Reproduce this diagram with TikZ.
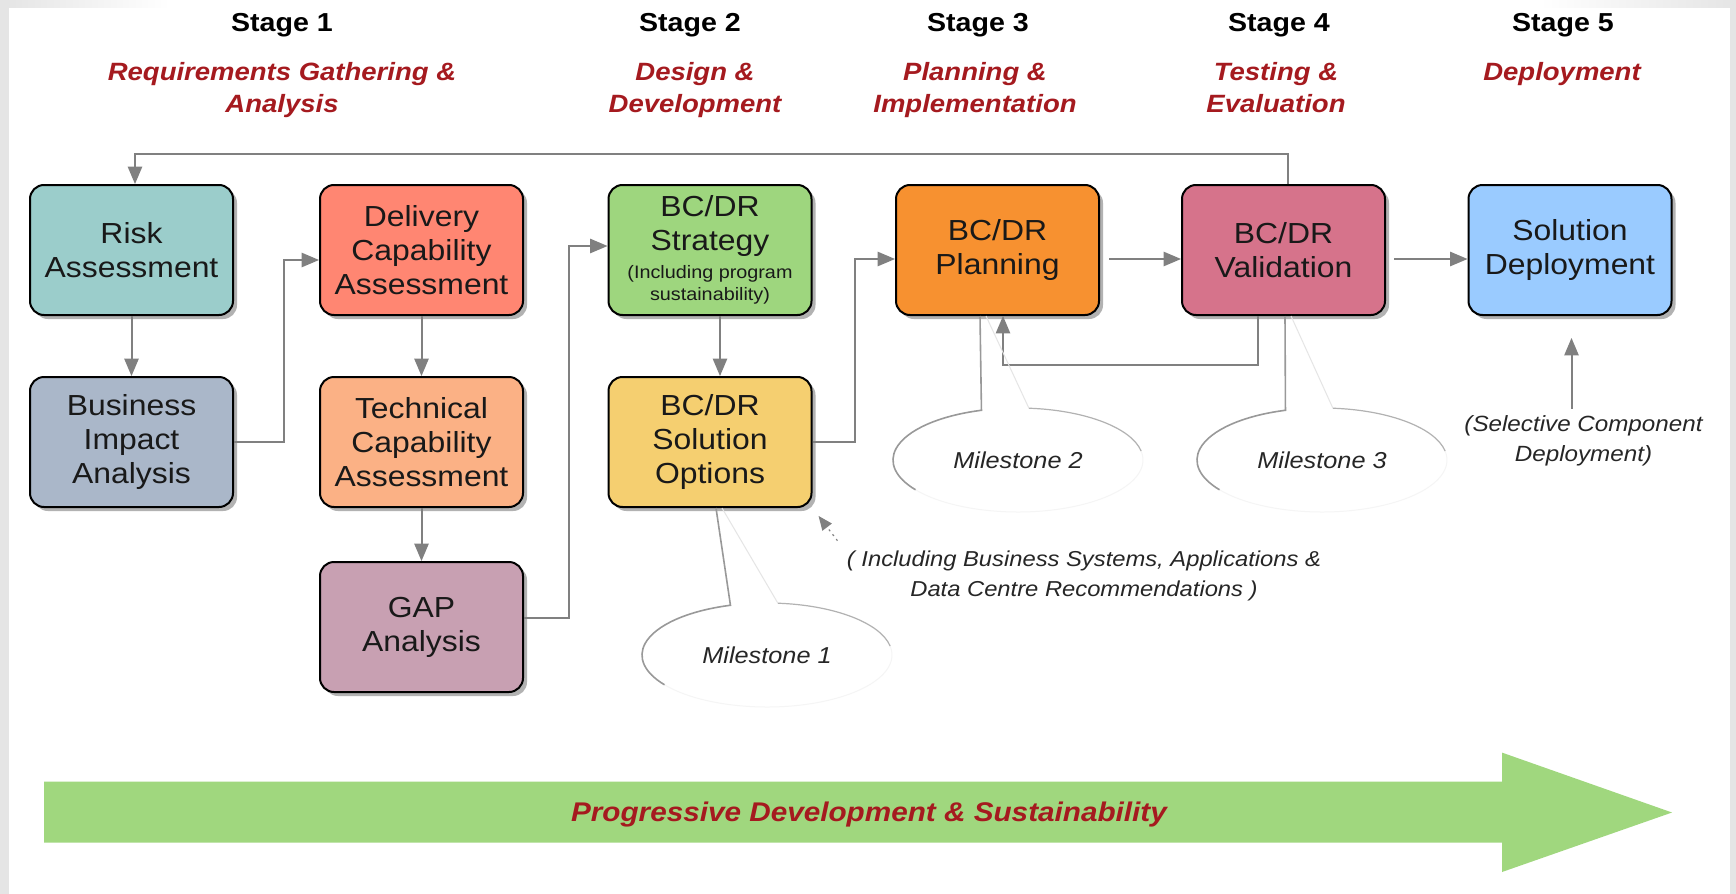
\documentclass[tikz,border=0pt]{standalone}
\usepackage{fontspec}
\setmainfont{Liberation Sans}[FakeStretch=1.1]
\usepackage{tikz}
\usetikzlibrary{shapes,arrows,shadows,backgrounds}

\definecolor{stagered}{HTML}{A51A1F}
\definecolor{linegray}{HTML}{808080}
\definecolor{riskfill}{HTML}{9BCDCB}
\definecolor{dcafill}{HTML}{FF8672}
\definecolor{biafill}{HTML}{AAB7C9}
\definecolor{tcafill}{HTML}{FBB185}
\definecolor{gapfill}{HTML}{C8A0B2}
\definecolor{stratfill}{HTML}{9ED67E}
\definecolor{optfill}{HTML}{F5CF70}
\definecolor{planfill}{HTML}{F79130}
\definecolor{valfill}{HTML}{D6738B}
\definecolor{depfill}{HTML}{9ACBFF}
\definecolor{progfill}{HTML}{A0D77E}

\tikzset{
  box/.style={rectangle,rounded corners=7pt,draw=black,line width=1pt,
    minimum width=101.5pt,minimum height=65pt,inner sep=1pt,align=center,
    text=black!90,font=\fontsize{14.5}{17}\selectfont,
    drop shadow={shadow xshift=2pt,shadow yshift=-2pt,fill=black!60}},
  stage/.style={font=\fontsize{13}{15.5}\selectfont\bfseries},
  phase/.style={align=center,anchor=north,text=stagered,font=\fontsize{12.5}{16}\selectfont\bfseries\itshape},
  flow/.style={draw=linegray,line width=1pt,>=triangle 45,->},
  note/.style={align=center,text=black!85,font=\fontsize{11}{15}\selectfont\itshape},
  mstone/.style={text=black!85,font=\fontsize{11.5}{14}\selectfont\itshape},
  stem/.style={draw=black!40,line width=0.8pt},
  rim/.style={draw=black!30,line width=0.6pt},
  fade/.style={draw=black!4,line width=0.5pt},
  mouth/.style={draw=black!10,line width=0.5pt}
}

\begin{document}
\begin{tikzpicture}[x=0.5pt,y=-0.5pt]
  \useasboundingbox (0,0) rectangle (1736,894);
  % frame
  \fill[black!10] (0,0) rectangle (1736,894);
  \fill[white] (9,7) rectangle (1730,894);
  \shade[left color=black!10,right color=white] (9,0) rectangle (170,7);
  \fill[white] (170,0) rectangle (1540,7);
  \shade[left color=white,right color=black!10] (1540,0) rectangle (1730,7);

  % stage headings
  \node[stage] (s1) at (282,25) {Stage 1};
  \node[stage] (s2) at (690,25) {Stage 2};
  \node[stage] (s3) at (978,25) {Stage 3};
  \node[stage] (s4) at (1279,25) {Stage 4};
  \node[stage] (s5) at (1563,25) {Stage 5};
  \node[phase] (p1) at (282,55) {Requirements Gathering \&\\Analysis};
  \node[phase] (p2) at (695,55) {Design \&\\Development};
  \node[phase] (p3) at (975,55) {Planning \&\\Implementation};
  \node[phase] (p4) at (1276,55) {Testing \&\\Evaluation};
  \node[phase] (p5) at (1562,55) {Deployment};

  % boxes
  \node[box,fill=riskfill] (risk) at (131.5,250) {Risk\\Assessment};
  \node[box,fill=biafill] (bia) at (131.5,442) {Business\\Impact\\Analysis};
  \node[box,fill=dcafill] (dca) at (421.5,250) {Delivery\\Capability\\Assessment};
  \node[box,fill=tcafill] (tca) at (421.5,442) {Technical\\Capability\\Assessment};
  \node[box,fill=gapfill] (gap) at (421.5,627) {GAP\\Analysis};
  \node[box,fill=stratfill] (strat) at (710,250)
    {BC/DR\\Strategy\\[-3pt]{\fontsize{9}{10.5}\selectfont (Including program}\\[-6pt]{\fontsize{9}{10.5}\selectfont sustainability)}};
  \node[box,fill=optfill] (opt) at (710,442) {BC/DR\\Solution\\Options};
  \node[box,fill=planfill] (plan) at (997.5,250) {BC/DR\\Planning};
  \node[box,fill=valfill] (val) at (1283.5,250) {BC/DR\\Validation};
  \node[box,fill=depfill] (dep) at (1570,250) {Solution\\Deployment};

  % connectors
  \draw[flow] (risk) -- (bia);
  \draw[flow] (bia.east) -- ++(50,0) |- ([yshift=-5pt]dca.west);
  \draw[flow] (dca) -- (tca);
  \draw[flow] (tca) -- (gap);
  \draw[flow] ([yshift=4.5pt]gap.east) -- ++(45,0) |- ([yshift=2pt]strat.west);
  \draw[flow] ([xshift=5pt]strat.south) -- ([xshift=5pt]opt.north);
  \draw[flow] (opt.east) -- ++(42,0) |- ([yshift=-4.5pt]plan.west);
  \draw[flow,shorten <=4.5pt] ([yshift=-4.5pt]plan.east) -- ([yshift=-4.5pt]val.west);
  \draw[flow,shorten <=4pt] ([yshift=-4.5pt]val.east) -- ([yshift=-4.5pt]dep.west);
  \draw[flow] ([xshift=2pt]val.north) -- ++(0,-30) -| ([xshift=1.75pt]risk.north);
  \draw[flow] ([xshift=-12.75pt]val.south) -- ++(0,49) -| ([xshift=2.75pt]plan.south);

  % notes
  \node[note,font=\fontsize{10.8}{15}\selectfont\itshape] (incl) at (1084,576)
    {( Including Business Systems, Applications \&\\Data Centre Recommendations )};
  \draw[flow,dotted,line width=0.6pt,shorten >=5pt,shorten <=2pt] (incl.north west) -- (opt.south east);
  \node[note] (sel) at (1583.5,441) {(Selective Component\\Deployment)};
  \draw[flow,shorten >=11pt] ([xshift=-6pt]sel.north) -- ([xshift=0.75pt]dep.south);

  % milestones
  \foreach \bx/\dx/\cx/\cy/\m in {opt/3/767/655/1,plan/-8.75/1018/460/2,val/0.75/1322/460/3}{
    \node[mstone] (ms\m) at (\cx,\cy) {Milestone \m};
    \draw[stem] ([xshift=\dx pt]\bx.south) -- ([shift={(107:62.5pt and 26pt)}]ms\m.center)
      arc[start angle=107,end angle=215,x radius=62.5pt,y radius=26pt];
    \draw[fade] ([shift={(215:62.5pt and 26pt)}]ms\m.center)
      arc[start angle=215,end angle=370,x radius=62.5pt,y radius=26pt];
    \draw[rim] ([shift={(10:62.5pt and 26pt)}]ms\m.center)
      arc[start angle=10,end angle=85,x radius=62.5pt,y radius=26pt];
    \draw[mouth] ([shift={(85:62.5pt and 26pt)}]ms\m.center) -- ([xshift=\dx pt+3pt]\bx.south);
  }

  % progress arrow
  \fill[progfill] (44,781.5) -- (1502,781.5) -- (1502,752.6) -- (1672,812.5)
    -- (1502,872) -- (1502,842.5) -- (44,842.5) -- cycle;
  \node[phase,anchor=center,font=\fontsize{13.5}{16}\selectfont\bfseries\itshape] (prog) at (869,815)
    {Progressive Development \& Sustainability};
\end{tikzpicture}
\end{document}
